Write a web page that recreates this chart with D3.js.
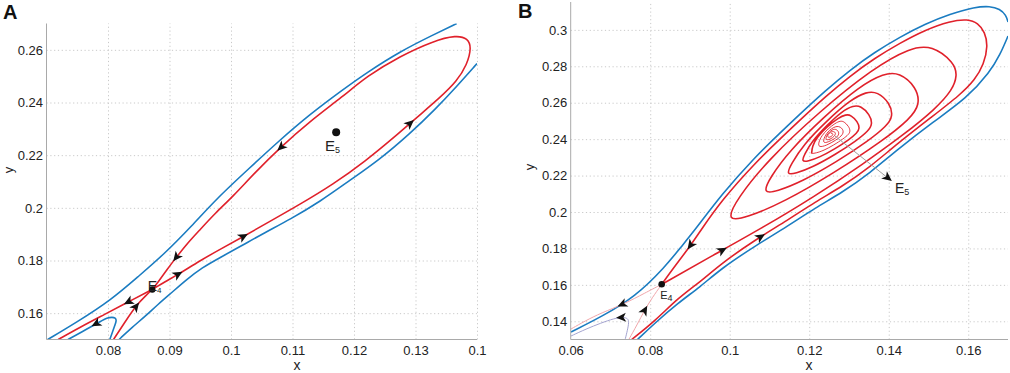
<!DOCTYPE html>
<html>
<head>
<meta charset="utf-8">
<script src="https://cdn.jsdelivr.net/npm/d3@7"></script>
<style>
  body { margin: 0; background: #fff; }
  svg { display: block; }
</style>
</head>
<body>
<svg id="chart" width="1010" height="373"></svg>
<script>
"use strict";

// ---------- panel A data ----------
const aXTicks = [0.08, 0.09, 0.1, 0.11, 0.12, 0.13, 0.14];
const aXTickLabels = ['0.08', '0.09', '0.1', '0.11', '0.12', '0.13', '0.1'];
const aYTicks = [0.16, 0.18, 0.2, 0.22, 0.24, 0.26];

const aBlueUpper = [[0.0702,0.15],[0.0751,0.1568],[0.0806,0.1652],[0.0849,0.1739],[0.0889,0.1819],[0.0937,0.1933],[0.0977,0.2036],[0.1031,0.2153],[0.1075,0.2248],[0.1128,0.2355],[0.1182,0.2449],[0.1221,0.2514],[0.1275,0.2594],[0.1328,0.2656],[0.1367,0.27]];
const aBlueLower = [[0.0818,0.15],[0.0839,0.1546],[0.0860,0.1587],[0.0881,0.1633],[0.0904,0.1679],[0.0928,0.1728],[0.0953,0.1773],[0.0982,0.1811],[0.1015,0.1853],[0.1055,0.1906],[0.1096,0.1956],[0.1145,0.2024],[0.1193,0.2104],[0.1242,0.2184],[0.1291,0.2282],[0.1332,0.2374],[0.1367,0.2461],[0.1400,0.2548]];
const aBlueHook = [[0.0803,0.15],[0.0807,0.1527],[0.0811,0.1553],[0.0814,0.1572],[0.0812,0.1582],[0.0807,0.1585],[0.0798,0.1582],[0.0789,0.157],[0.0777,0.1555],[0.0763,0.1536],[0.0748,0.1517],[0.0735,0.15]];
const aRedLoop = [[0.0872,0.1690],[0.0893,0.1720],[0.0914,0.1747],[0.0950,0.1800],[0.0982,0.1842],[0.1020,0.1891],[0.1063,0.1948],[0.1112,0.2013],[0.1166,0.2089],[0.1218,0.2176],[0.1267,0.2271],[0.1302,0.2343],[0.1340,0.2419],[0.1367,0.2480],[0.1384,0.2544],[0.1391,0.2609],[0.1385,0.2643],[0.1367,0.2656],[0.1328,0.2633],[0.1275,0.2576],[0.1221,0.2500],[0.1182,0.2423],[0.1128,0.2328],[0.1080,0.2229],[0.1039,0.2134],[0.1003,0.2043],[0.0974,0.1979],[0.0950,0.1918],[0.0930,0.1868],[0.0912,0.1815],[0.0896,0.1766],[0.0881,0.1716],[0.0872,0.1690]];
const aRedOut = [[0.0872,0.1690],[0.0833,0.1643],[0.0795,0.1596],[0.0754,0.1546],[0.0719,0.1500]];
const aRedIn = [[0.0809,0.15],[0.0828,0.1568],[0.0847,0.1633],[0.0862,0.1668],[0.0872,0.169]];
const aE4 = [0.0872, 0.169];
const aE5 = [0.1171, 0.2287];
const aArrows = [
  { on: 'redOut', at: [0.0833, 0.1644] },
  { on: 'hook', at: [0.0782, 0.1553] },
  { on: 'redIn', at: [0.08455, 0.16253] },
  { on: 'loop', at: [0.0914, 0.1747] },
  { on: 'loop', at: [0.09106, 0.18114] },
  { on: 'loop', at: [0.1020, 0.1891] },
  { on: 'loop', at: [0.10764, 0.22406] },
  { on: 'loop', at: [0.1296, 0.2309] },
];
const aLabels = [
  { text: 'E', sub: '5', at: [0.11528, 0.2214], size: 15, subSize: 9 },
  { text: 'E', sub: '4', at: [0.08646, 0.16851], size: 14, subSize: 8 },
];

// ---------- panel B data ----------
const bXTicks = [0.06, 0.08, 0.1, 0.12, 0.14, 0.16];
const bYTicks = [0.14, 0.16, 0.18, 0.2, 0.22, 0.24, 0.26, 0.28, 0.3];

const bBlueUpper = [[0.06008,0.13412],[0.06762,0.14235],[0.07617,0.15333],[0.08372,0.1698],[0.08774,0.18078],[0.09126,0.19012],[0.09805,0.20988],[0.10635,0.23019],[0.11264,0.24337],[0.11767,0.2538],[0.12396,0.26643],[0.13024,0.27796],[0.13653,0.28784],[0.14282,0.29607],[0.14911,0.30321],[0.15539,0.3087],[0.16168,0.31254],[0.16545,0.31309],[0.16797,0.31144],[0.16948,0.30815],[0.17,0.30431]];
const bBlueLower = [[0.07667,0.1297],[0.0812,0.13906],[0.08699,0.15004],[0.09252,0.15882],[0.09805,0.16925],[0.10635,0.18133],[0.11465,0.19231],[0.12144,0.20219],[0.12848,0.21098],[0.13527,0.22141],[0.14206,0.23404],[0.15112,0.24941],[0.15967,0.26258],[0.16545,0.27686],[0.16797,0.28619],[0.17,0.29662]];
const bRedOuter = [[0.07517,0.1297],[0.0812,0.14016],[0.08699,0.15278],[0.09252,0.16157],[0.09805,0.172],[0.10635,0.18463],[0.11465,0.19561],[0.12144,0.20549],[0.12848,0.21427],[0.13527,0.2247],[0.14206,0.23733],[0.15112,0.2527],[0.15791,0.26423],[0.16168,0.27247],[0.16394,0.28125],[0.16495,0.29113],[0.1642,0.29882],[0.16244,0.30376],[0.15992,0.30595],[0.15539,0.30486],[0.14911,0.29992],[0.14282,0.29278],[0.13653,0.28454],[0.13024,0.27466],[0.12396,0.26313],[0.11767,0.2505],[0.11264,0.24007],[0.10635,0.2269],[0.09805,0.20659],[0.09277,0.19012],[0.09026,0.18188],[0.08623,0.17035],[0.08289,0.1603]];
const bSpiral = [
  [0.08283,0.16021],[0.09492,0.17518],[0.10818,0.19125],[0.12115,0.20823],[0.13371,0.22656],[0.14389,0.24266],[0.15173,0.25653],[0.15604,0.26707],[0.15723,0.27488],[0.15654,0.28186],
  [0.15092,0.29157],[0.14538,0.2902],[0.13616,0.27904],[0.1225,0.25504],[0.10964,0.22855],[0.10188,0.20743],[0.09908,0.19484],
  [0.10415,0.19678],[0.11356,0.2054],[0.12629,0.22148],[0.1385,0.23916],[0.14537,0.25119],[0.14788,0.25899],[0.14695,0.26867],
  [0.14271,0.27662],[0.13883,0.27621],[0.13256,0.26892],[0.12361,0.25204],[0.1151,0.23379],[0.11011,0.21889],[0.1083,0.21014],
  [0.11177,0.21125],[0.11816,0.21671],[0.12673,0.22729],[0.13492,0.23909],[0.1395,0.24723],[0.14111,0.25267],[0.14026,0.25987],
  [0.13715,0.26601],[0.13443,0.26607],[0.13016,0.26129],[0.12423,0.24962],[0.11858,0.23706],[0.11545,0.2263],[0.11422,0.22043],
  [0.11651,0.22111],[0.12079,0.22455],[0.12648,0.23143],[0.13191,0.2392],[0.13491,0.24463],[0.13594,0.24834],[0.13522,0.25357],
  [0.13298,0.25821],[0.13111,0.25848],[0.12828,0.25542],[0.12442,0.24757],[0.12077,0.23905],[0.11879,0.23169],[0.11806,0.22759],
  [0.11967,0.22783],[0.12258,0.23002],[0.12641,0.23456],[0.13005,0.23973],[0.13205,0.2434],[0.13271,0.24596],[0.13218,0.24964],
  [0.13052,0.25321],[0.12922,0.25357],[0.12728,0.25158],[0.12449,0.24687],[0.12199,0.24123],[0.12073,0.23605],[0.12061,0.23211]
];
const bSpiralCore = [
  [0.12061,0.23211],[0.12167,0.23233],[0.12362,0.23373],[0.12617,0.23674],[0.1286,0.24021],[0.12994,0.24264],[0.13036,0.24441],[0.12997,0.24697],
  [0.12877,0.24968],[0.12785,0.25007],[0.12656,0.2488],[0.12471,0.24569],[0.1231,0.24184],[0.12234,0.23821],[0.12232,0.23539],
  [0.12434,0.2365],[0.12672,0.23945],[0.1286,0.24251],[0.12859,0.24554],
  [0.1271,0.2478],[0.12495,0.24492],[0.1238,0.24131],[0.12342,0.23771],
  [0.12474,0.23837],[0.12633,0.24011],[0.12751,0.24217],[0.12741,0.24442],
  [0.12643,0.24595],[0.12505,0.24413],[0.12427,0.2416],[0.12411,0.23942],
  [0.12521,0.23977],[0.12645,0.24165],[0.12672,0.24371],[0.12587,0.24444],[0.12497,0.24341],[0.12457,0.2418],[0.12476,0.24073],[0.12562,0.24138],[0.1261,0.24277],[0.12561,0.24336],[0.12547,0.24282]
];
const bPinkOut = [[0.08289,0.1603],[0.07869,0.15553],[0.07341,0.14949],[0.06762,0.14455],[0.0636,0.14016],[0.06008,0.13576]];
const bPinkIn = [[0.07454,0.1297],[0.07667,0.13796],[0.07861,0.1462],[0.08045,0.15278],[0.08289,0.1603]];
const bHook = [[0.07366,0.1297],[0.07429,0.13522],[0.07466,0.13961],[0.07441,0.14153],[0.07315,0.14235],[0.07089,0.14153],[0.06762,0.13906],[0.06385,0.13576],[0.06008,0.13192]];
const bE4 = [0.08289, 0.1603];
const bE5Pointer = [[0.12647, 0.24172], [0.1398, 0.21866]];
const bArrows = [
  { on: 'outer', at: [0.09, 0.18188] },
  { on: 'spiral', at: [0.09798, 0.18007] },
  { on: 'outer', at: [0.10804, 0.18556] },
  { on: 'pinkOut', at: [0.07315, 0.14839] },
  { on: 'hook', at: [0.07265, 0.14235] },
  { on: 'pinkIn', at: [0.07861, 0.1462] },
];
const bLabels = [
  { text: 'E', sub: '5', at: [0.14156, 0.21043], size: 14, subSize: 9 },
  { text: 'E', sub: '4', at: [0.08251, 0.15223], size: 11, subSize: 9 },
];

// ---------- drawing ----------
const FONT = '"Liberation Sans", Arial, Helvetica, sans-serif';
const RED = '#e0212b';
const BLUE = '#1b7cc1';
const ARROW = 'M5,0 L-5,-4.6 L-2.4,0 L-5,4.6 Z';

const svg = d3.select('#chart').attr('font-family', FONT);
svg.append('rect').attr('width', 1010).attr('height', 373).attr('fill', '#fff');

function panel(cfg) {
  const x = d3.scaleLinear().domain(cfg.xDomain).range(cfg.xRange);
  const y = d3.scaleLinear().domain(cfg.yDomain).range(cfg.yRange);
  const [x0, x1] = cfg.xRange;
  const [y0, y1] = cfg.yRange;
  const root = svg.append('g');

  // dotted grid
  const gridX = root.append('g').attr('transform', `translate(0,${y0})`)
    .call(d3.axisBottom(x).tickValues(cfg.xGrid).tickSize(-(y0 - y1)).tickFormat(''));
  const gridY = root.append('g').attr('transform', `translate(${x0},0)`)
    .call(d3.axisLeft(y).tickValues(cfg.yTicks).tickSize(-(x1 - x0)).tickFormat(''));
  [gridX, gridY].forEach((g) => {
    g.select('.domain').remove();
    g.selectAll('line').attr('stroke', '#c9c9c9').attr('stroke-width', 1).attr('stroke-dasharray', '1.2,2.6');
  });

  // tick labels
  const ax = root.append('g').attr('transform', `translate(0,${y0})`)
    .call(d3.axisBottom(x).tickValues(cfg.xTicks).tickFormat((d, i) => cfg.xLabels[i]).tickSize(0).tickPadding(6));
  const ay = root.append('g').attr('transform', `translate(${x0},0)`)
    .call(d3.axisLeft(y).tickValues(cfg.yTicks).tickFormat((d) => String(+d.toFixed(2))).tickSize(0).tickPadding(3.5));
  [ax, ay].forEach((g) => {
    g.select('.domain').remove();
    g.attr('font-family', FONT).attr('font-size', 13);
    g.selectAll('text').attr('fill', '#222');
  });

  root.append('clipPath').attr('id', cfg.id).append('rect')
    .attr('x', x0).attr('y', y1).attr('width', x1 - x0).attr('height', y0 - y1);
  const plot = root.append('g').attr('clip-path', `url(#${cfg.id})`);

  return { x, y, root, plot, x0, x1, y0, y1 };
}

function drawCurve(p, data, color, width, curve) {
  const line = d3.line().x((d) => p.x(d[0])).y((d) => p.y(d[1])).curve(curve || d3.curveBasis);
  return p.plot.append('path').attr('d', line(data)).attr('fill', 'none')
    .attr('stroke', color).attr('stroke-width', width).attr('stroke-linejoin', 'round').node();
}

// put an arrowhead on a path at the point closest to the target, along the path direction
function drawArrow(p, node, at) {
  const tx = p.x(at[0]);
  const ty = p.y(at[1]);
  const len = node.getTotalLength();
  let best = 0;
  let bestD = Infinity;
  for (let l = 0; l <= len; l += 0.5) {
    const q = node.getPointAtLength(l);
    const d = (q.x - tx) ** 2 + (q.y - ty) ** 2;
    if (d < bestD) { bestD = d; best = l; }
  }
  const a = node.getPointAtLength(Math.max(0, best - 2));
  const b = node.getPointAtLength(Math.min(len, best + 2));
  const c = node.getPointAtLength(best);
  const ang = Math.atan2(b.y - a.y, b.x - a.x) * 180 / Math.PI;
  p.root.append('path').attr('d', ARROW).attr('fill', '#111')
    .attr('transform', `translate(${c.x},${c.y}) rotate(${ang})`);
}

function drawLabel(p, lab) {
  const t = p.root.append('text').attr('x', p.x(lab.at[0])).attr('y', p.y(lab.at[1]))
    .attr('font-size', lab.size).attr('fill', '#222').text(lab.text);
  t.append('tspan').attr('font-size', lab.subSize).attr('dy', 2).text(lab.sub);
}

function drawFrame(p, xTitleAt, yTitleAt, letter, letterAt) {
  p.root.append('path')
    .attr('d', `M${p.x0},${p.y1} V${p.y0} H${p.x1}`)
    .attr('fill', 'none').attr('stroke', '#a9a9a9').attr('stroke-width', 1);
  p.root.append('text').attr('x', xTitleAt[0]).attr('y', xTitleAt[1])
    .attr('text-anchor', 'middle').attr('font-size', 14).attr('fill', '#222').text('x');
  p.root.append('text').attr('transform', `translate(${yTitleAt[0]},${yTitleAt[1]}) rotate(-90)`)
    .attr('text-anchor', 'middle').attr('font-size', 13).attr('fill', '#222').text('y');
  svg.append('text').attr('x', letterAt[0]).attr('y', letterAt[1])
    .attr('font-size', 20).attr('font-weight', 'bold').attr('fill', '#111').text(letter);
}

// ----- panel A -----
const pa = panel({
  id: 'clipA',
  xDomain: [0.07, 0.14], xRange: [46.5, 477],
  yDomain: [0.15, 0.27], yRange: [339.5, 23.5],
  xTicks: aXTicks, xLabels: aXTickLabels, xGrid: aXTicks, yTicks: aYTicks,
});

drawCurve(pa, aBlueUpper, BLUE, 1.6);
drawCurve(pa, aBlueLower, BLUE, 1.6);
const aPaths = {
  hook: drawCurve(pa, aBlueHook, BLUE, 1.6),
  loop: drawCurve(pa, aRedLoop, RED, 1.6),
  redOut: drawCurve(pa, aRedOut, RED, 1.6),
  redIn: drawCurve(pa, aRedIn, RED, 1.6),
};
pa.root.append('circle').attr('cx', pa.x(aE4[0])).attr('cy', pa.y(aE4[1])).attr('r', 3.2).attr('fill', '#111');
pa.root.append('circle').attr('cx', pa.x(aE5[0])).attr('cy', pa.y(aE5[1])).attr('r', 4).attr('fill', '#111');
aArrows.forEach((a) => drawArrow(pa, aPaths[a.on], a.at));
aLabels.forEach((l) => drawLabel(pa, l));
drawFrame(pa, [297, 370], [12.5, 170], 'A', [3, 19]);

// ----- panel B -----
const pb = panel({
  id: 'clipB',
  xDomain: [0.06, 0.17], xRange: [570.7, 1008],
  yDomain: [0.13, 0.3153], yRange: [339.5, 2],
  xTicks: bXTicks, xLabels: bXTicks.map((d) => String(+d.toFixed(2))),
  xGrid: bXTicks.slice(1), yTicks: bYTicks,
});

drawCurve(pb, bBlueUpper, BLUE, 1.6);
drawCurve(pb, bBlueLower, BLUE, 1.6);
const bPaths = {
  pinkOut: drawCurve(pb, bPinkOut, '#f0a6aa', 1),
  pinkIn: drawCurve(pb, bPinkIn, '#f0a6aa', 1),
  hook: drawCurve(pb, bHook, '#a3a3cf', 1),
  outer: drawCurve(pb, bRedOuter, RED, 1.6),
  spiral: drawCurve(pb, bSpiral, RED, 1.6),
};
drawCurve(pb, bSpiralCore, RED, 0.9);

// pointer to E5
pb.plot.append('line')
  .attr('x1', pb.x(bE5Pointer[0][0])).attr('y1', pb.y(bE5Pointer[0][1]))
  .attr('x2', pb.x(bE5Pointer[1][0])).attr('y2', pb.y(bE5Pointer[1][1]))
  .attr('stroke', '#a0a0a0').attr('stroke-width', 1);
{
  const ex = pb.x(bE5Pointer[1][0]);
  const ey = pb.y(bE5Pointer[1][1]);
  const ang = Math.atan2(ey - pb.y(bE5Pointer[0][1]), ex - pb.x(bE5Pointer[0][0])) * 180 / Math.PI;
  pb.root.append('path').attr('d', ARROW).attr('fill', '#111')
    .attr('transform', `translate(${ex},${ey}) rotate(${ang})`);
}

pb.root.append('circle').attr('cx', pb.x(bE4[0])).attr('cy', pb.y(bE4[1])).attr('r', 3.3).attr('fill', '#111');
bArrows.forEach((a) => drawArrow(pb, bPaths[a.on], a.at));
bLabels.forEach((l) => drawLabel(pb, l));
drawFrame(pb, [809, 370], [534, 167], 'B', [518, 18]);
</script>
</body>
</html>
